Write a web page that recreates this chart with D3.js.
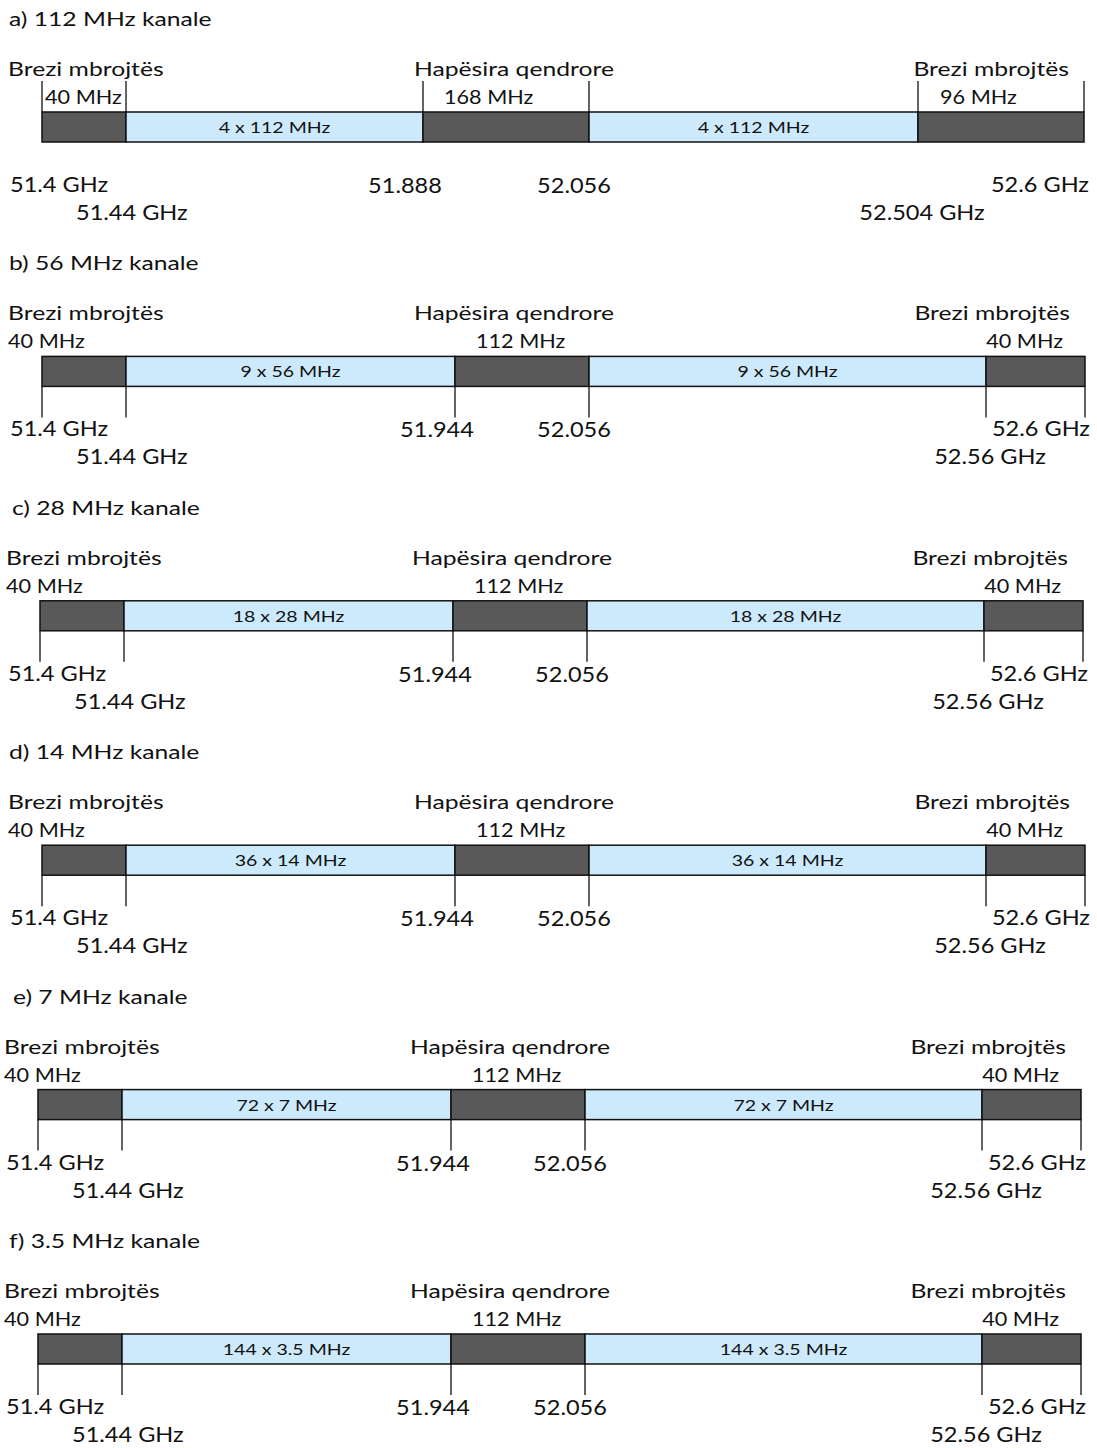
<!DOCTYPE html>
<html>
<head>
<meta charset="utf-8">
<script src="https://cdn.jsdelivr.net/npm/d3@7"></script>
<style>
  body { margin: 0; background: #ffffff; }
  text { font-family: Lato, "Open Sans", sans-serif; fill: #111111; }
</style>
</head>
<body>
<svg id="chart" width="1097" height="1448"></svg>
<script>
// panel titles
var titles = ["a) 112 MHz kanale", "b) 56 MHz kanale", "c) 28 MHz kanale",
              "d) 14 MHz kanale", "e) 7 MHz kanale", "f) 3.5 MHz kanale"];
var channelWidth = [112, 56, 28, 14, 7, 3.5];   // MHz
var channelCount = [4, 9, 18, 36, 72, 144];     // per block

// band edges (GHz): start, block 1 start, centre gap start, centre gap end, block 2 end, stop
var edgesA = [51.4, 51.44, 51.888, 52.056, 52.504, 52.6];
var edgesB = [51.4, 51.44, 51.944, 52.056, 52.56, 52.6];
var edges = [edgesA, edgesB, edgesB, edgesB, edgesB, edgesB];

// tick labels under the band
var tickLabelsA = ["51.4 GHz", "51.44 GHz", "51.888", "52.056", "52.504 GHz", "52.6 GHz"];
var tickLabelsB = ["51.4 GHz", "51.44 GHz", "51.944", "52.056", "52.56 GHz", "52.6 GHz"];
var tickLabels = [tickLabelsA, tickLabelsB, tickLabelsB, tickLabelsB, tickLabelsB, tickLabelsB];

var guardText = "Brezi mbrojtës";
var centreText = "Hapësira qendrore";

// drawing is not to scale, so each edge gets its own spot along the bar
var drawnA = [42, 126, 423, 589, 918, 1084];
var drawnB = [42, 126, 455, 589, 986, 1085];
var xShift = [0, 0, -2, 0, -4, -4];
var titleIndent = [0, 0, 3, 0, 4, 0];

var svg = d3.select("#chart");
var barH = 30;
var tickLen = 31;

var yScale = d3.scalePoint()
  .domain(d3.range(titles.length))
  .range([112, 1334]);

// text styles (font is stretched sideways like the original)
var styles = {
  title: { size: 19, sx: 1.3 },
  label: { size: 19, sx: 1.3 },
  mhz:   { size: 19, sx: 1.14 },
  inner: { size: 16, sx: 1.22 },
  freq:  { size: 22, sx: 1.07 }
};

var addText = function(g, txt, x, y, cls, anchor) {
  var st = styles[cls];
  return g.append("text")
    .attr("transform", "translate(" + x + "," + y + ") scale(" + st.sx + ",1)")
    .attr("text-anchor", anchor || "start")
    .style("font-size", st.size + "px")
    .text(txt);
};

var segColor = function(k) {
  return (k === 1 || k === 3) ? "#cdeafd" : "#595959";
};

titles.forEach(function(title, i) {
  var e = edges[i];
  var first = (i === 0);
  var range = (first ? drawnA : drawnB).map(function(v) { return v + xShift[i]; });
  var x = d3.scaleLinear().domain(e).range(range);
  var top = yScale(i);
  var bottom = top + barH;
  var g = svg.append("g").attr("class", "panel");

  // title
  addText(g, title, 9 + titleIndent[i], top - 86, "title");

  // segments
  var segs = d3.range(5).map(function(k) {
    var label = "";
    if (k === 1 || k === 3) label = channelCount[i] + " x " + channelWidth[i] + " MHz";
    return { k: k, a: e[k], b: e[k + 1], label: label };
  });

  g.selectAll("rect.seg")
    .data(segs)
    .enter().append("rect")
    .attr("class", "seg")
    .attr("x", function(d) { return x(d.a); })
    .attr("y", top)
    .attr("width", function(d) { return x(d.b) - x(d.a); })
    .attr("height", barH)
    .attr("fill", function(d) { return segColor(d.k); })
    .attr("stroke", "#111")
    .attr("stroke-width", 1.5);

  segs.filter(function(d) { return d.label; }).forEach(function(d) {
    addText(g, d.label, (x(d.a) + x(d.b)) / 2, top + 21, "inner", "middle");
  });

  // edge ticks
  g.selectAll("line.tick")
    .data(e)
    .enter().append("line")
    .attr("class", "tick")
    .attr("x1", function(d) { return x(d); })
    .attr("x2", function(d) { return x(d); })
    .attr("y1", first ? top - tickLen : bottom)
    .attr("y2", first ? top : bottom + tickLen)
    .attr("stroke", "#111")
    .attr("stroke-width", 1.3);

  // labels above the band
  var guardL = Math.round((e[1] - e[0]) * 1000) + " MHz";
  var centre = Math.round((e[3] - e[2]) * 1000) + " MHz";
  var guardR = Math.round((e[5] - e[4]) * 1000) + " MHz";

  addText(g, guardText, x(e[0]) - 34, top - 36, "label");
  addText(g, guardL, first ? x(e[0]) + 3 : x(e[0]) - 34, top - 8, "mhz");
  addText(g, centreText, x(e[3]) - 75, top - 36, "label", "middle");
  addText(g, centre, x(e[2]) + 21, top - 8, "mhz");
  addText(g, guardText, x(e[5]) - 15, top - 36, "label", "end");
  if (first) addText(g, guardR, x(e[4]) + 22, top - 8, "mhz");
  else addText(g, guardR, x(e[5]) - 22, top - 8, "mhz", "end");

  // frequency labels under the band
  var tl = tickLabels[i];
  addText(g, tl[0], x(e[0]) - 32, bottom + 50, "freq");
  addText(g, tl[1], x(e[1]) - 50, bottom + 78, "freq");
  addText(g, tl[2], x(e[2]) - 18, bottom + 51, "freq", "middle");
  addText(g, tl[3], x(e[3]) - 15, bottom + 51, "freq", "middle");
  addText(g, tl[4], x(e[4]) + 4, bottom + 78, "freq", "middle");
  addText(g, tl[5], x(e[5]) + 5, bottom + 50, "freq", "end");
});
</script>
</body>
</html>
